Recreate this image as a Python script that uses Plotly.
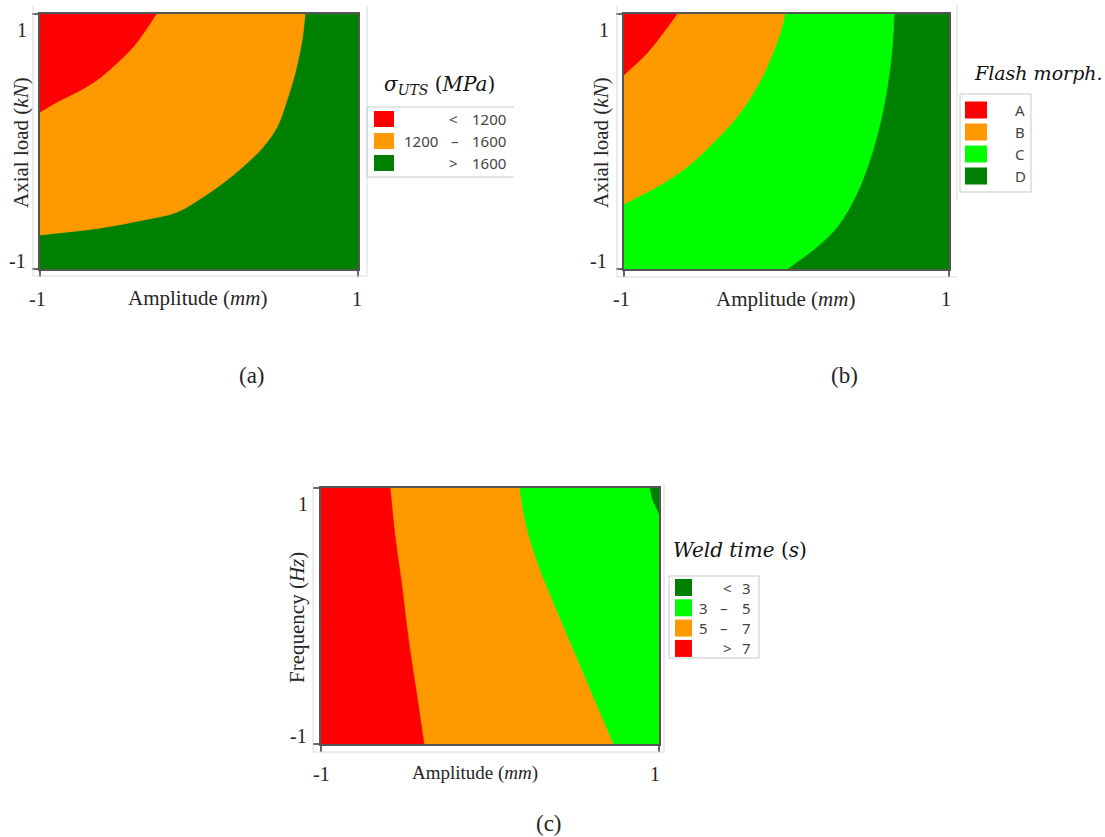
import math
import plotly.graph_objects as go

# ---------------- data (boundaries, coded units) ----------------
# (a) sigma_UTS
a_red_x = [-0.270, -0.327, -0.415, -0.516, -0.642, -0.767, -0.893, -1.0]
a_red_y = [1.0, 0.890, 0.741, 0.616, 0.482, 0.388, 0.310, 0.231]
a_og_x = [0.667, 0.648, 0.604, 0.553, 0.491, 0.403, 0.302, 0.176, 0.025, -0.138, -0.352, -0.623, -1.0]
a_og_y = [1.0, 0.796, 0.537, 0.325, 0.114, -0.043, -0.169, -0.302, -0.435, -0.553, -0.616, -0.678, -0.733]
a_levels = ["<  1200", "1200 \u2013 1600", ">  1600"]

# (b) Flash morphology
b_ro_x = [-0.674, -0.760, -0.858, -1.0]
b_ro_y = [1.0, 0.851, 0.694, 0.522]
b_ol_x = [-0.009, -0.040, -0.102, -0.182, -0.305, -0.452, -0.612, -0.778, -1.0]
b_ol_y = [1.0, 0.851, 0.639, 0.427, 0.192, -0.012, -0.200, -0.341, -0.490]
b_ld_x = [0.662, 0.649, 0.606, 0.532, 0.434, 0.311, 0.163, 0.003]
b_ld_y = [1.0, 0.718, 0.325, -0.067, -0.404, -0.671, -0.851, -1.0]
b_levels = ["A", "B", "C", "D"]

# (c) Weld time
c_ro_x = [-0.592, -0.562, -0.521, -0.485, -0.432, -0.391]
c_ro_y = [1.0, 0.617, 0.227, -0.164, -0.633, -1.0]
c_og_x = [0.172, 0.207, 0.278, 0.373, 0.491, 0.609, 0.728]
c_og_y = [1.0, 0.727, 0.414, 0.102, -0.266, -0.633, -1.0]
c_gd_x = [0.947, 0.964, 1.0]
c_gd_y = [1.0, 0.906, 0.805]
c_levels = [("", "<", "3"), ("3", "\u2013", "5"), ("5", "\u2013", "7"), ("", ">", "7")]

tick_vals = [-1, 1]
tick_text = ["-1", "1"]

RED = "#FF0000"
ORANGE = "#FF9900"
LGREEN = "#00FF00"
DGREEN = "#008000"

W, H = 1105, 837
LO, HI = tick_vals          # coded axis range
EXT = 1.6                   # construction corners beyond the (clipped) plot area


def P(x):
    return x / W


def Q(y):
    return 1 - y / H


fig = go.Figure()


def layer(xs, ys, color, ax, shape="spline"):
    fig.add_trace(go.Scatter(
        x=xs, y=ys, mode="lines", fill="toself", fillcolor=color,
        line=dict(color=color, width=0.8, shape=shape, smoothing=1.0),
        xaxis="x" + ax, yaxis="y" + ax, hoverinfo="skip", showlegend=False))


def base(color, ax):
    layer([-EXT, EXT, EXT, -EXT, -EXT], [-EXT, -EXT, EXT, EXT, -EXT], color, ax, shape="linear")


def ext_pt(x, y, xp, yp):
    # continue a boundary past its end point, along its last segment, out of the plot area
    dx, dy = x - xp, y - yp
    n = math.hypot(dx, dy)
    return (x + 0.5 * dx / n, y + 0.5 * dy / n)


def curve_layer(bx, by, corners, color, ax):
    s = ext_pt(bx[0], by[0], bx[1], by[1])
    e = ext_pt(bx[-1], by[-1], bx[-2], by[-2])
    xs = [s[0]] + bx + [e[0]] + [c[0] for c in corners]
    ys = [s[1]] + by + [e[1]] + [c[1] for c in corners]
    layer(xs, ys, color, ax)


TL = [(-EXT, EXT)]
BL_TL = [(-EXT, -EXT), (-EXT, EXT)]
TR = [(EXT, EXT)]

# (a)
base(DGREEN, "")
curve_layer(a_og_x, a_og_y, TL, ORANGE, "")
curve_layer(a_red_x, a_red_y, TL, RED, "")

# (b)
base(DGREEN, "2")
curve_layer(b_ld_x, b_ld_y, BL_TL, LGREEN, "2")
curve_layer(b_ol_x, b_ol_y, TL, ORANGE, "2")
curve_layer(b_ro_x, b_ro_y, TL, RED, "2")

# (c)
base(LGREEN, "3")
curve_layer(c_og_x, c_og_y, BL_TL, ORANGE, "3")
curve_layer(c_ro_x, c_ro_y, BL_TL, RED, "3")
curve_layer(c_gd_x, c_gd_y, TR, DGREEN, "3")

# ---------------- axes ----------------
AX = dict(range=[LO, HI], showgrid=False, zeroline=False, showline=True, mirror=True,
          linecolor="#555555", linewidth=2, ticks="outside", ticklen=6, tickwidth=1.5,
          tickcolor="#666666", tickvals=tick_vals, showticklabels=False, fixedrange=True)

boxes = {
    "": (40, 358, 14, 269),
    "2": (624, 949, 14, 269),
    "3": (321, 659, 488, 744),
}
layout_axes = {}
for k, (x0, x1, y0, y1) in boxes.items():
    layout_axes["xaxis" + k] = dict(AX, domain=[P(x0), P(x1)], anchor="y" + k)
    layout_axes["yaxis" + k] = dict(AX, domain=[Q(y1), Q(y0)], anchor="x" + k)

fig.update_layout(**layout_axes)

# ---------------- text ----------------
SERIF = "Liberation Serif"
TXT = "#262626"
ann = []


def text(x, y, s, size=20, family=SERIF, color=TXT, angle=0, xanchor="center"):
    ann.append(dict(x=P(x), y=Q(y), xref="paper", yref="paper", text=s, showarrow=False,
                    font=dict(family=family, size=size, color=color), textangle=angle,
                    xanchor=xanchor, yanchor="middle"))


# tick labels
for (xl, xr, yb), ylab in [((37, 357, 299), ((22, 30), (17, 261))),
                           ((621, 946, 299), ((604, 30), (598, 261))),
                           ((321, 655, 774), ((303, 504), (298, 736)))]:
    text(xl, yb, tick_text[0])
    text(xr, yb, tick_text[1])
    text(ylab[0][0], ylab[0][1], tick_text[1])
    text(ylab[1][0], ylab[1][1], tick_text[0])

# axis titles
text(197, 298, "Amplitude (<i>mm</i>)", size=21)
text(21, 143, "Axial load (<i>kN</i>)", size=21, angle=-90)
text(785, 299, "Amplitude (<i>mm</i>)", size=21)
text(601, 143, "Axial load (<i>kN</i>)", size=21, angle=-90)
text(475, 773, "Amplitude (<i>mm</i>)", size=19)
text(297, 618, "Frequency (<i>Hz</i>)", size=21, angle=-90)

# sub-figure labels
text(252, 376, "(a)", size=23)
text(845, 376, "(b)", size=23)
text(549, 823, "(c)", size=23)

# legend titles
LT = "DejaVu Serif"
text(440, 85, "<i>\u03c3<sub>UTS</sub></i> (<i>MPa</i>)", size=20, family=LT, color="#111111")
text(1038, 73, "<i>Flash morph.</i>", size=19, family=LT, color="#111111")
text(740, 550, "<i>Weld time</i> (<i>s</i>)", size=20, family=LT, color="#111111")

# ---------------- shapes: frames and legend boxes ----------------
shapes = []
FRAME = "#d9d9d9"
LBOX = "#c9c9c9"


def line(x0, y0, x1, y1, color=FRAME, width=1):
    shapes.append(dict(type="line", xref="paper", yref="paper", x0=P(x0), y0=Q(y0),
                       x1=P(x1), y1=Q(y1), line=dict(color=color, width=width)))


def rect(x0, y0, x1, y1, color):
    shapes.append(dict(type="rect", xref="paper", yref="paper", x0=P(x0), y0=Q(y0),
                       x1=P(x1), y1=Q(y1), fillcolor=color, line=dict(width=0)))


# outer light frames
line(33, 5, 33, 276); line(33, 276, 367, 276); line(367, 5, 367, 276)
line(617, 5, 617, 277); line(617, 277, 957, 277); line(957, 5, 957, 200)
line(313, 483, 313, 752); line(313, 752, 664, 752); line(664, 483, 664, 752)

LF = "Noto Sans"
LC = "#444444"

# legend (a)
line(367, 107, 514, 107, LBOX); line(367, 177, 514, 177, LBOX); line(367, 107, 367, 177, LBOX)
a_colors = [RED, ORANGE, DGREEN]
for i, (lab, col) in enumerate(zip(a_levels, a_colors)):
    yc = 119 + 22 * i
    rect(374, yc - 8, 394, yc + 8, col)
    parts = lab.split()
    if len(parts) == 2:
        text(453, yc, parts[0], size=15, family=LF, color=LC)
        text(508, yc, parts[1], size=15, family=LF, color=LC, xanchor="right")
    else:
        text(440, yc, parts[0], size=15, family=LF, color=LC, xanchor="right")
        text(455, yc, parts[1], size=15, family=LF, color=LC)
        text(508, yc, parts[2], size=15, family=LF, color=LC, xanchor="right")

# legend (b)
shapes.append(dict(type="rect", xref="paper", yref="paper", x0=P(960), y0=Q(94), x1=P(1031),
                   y1=Q(192), line=dict(color=LBOX, width=1)))
b_colors = [RED, ORANGE, LGREEN, DGREEN]
for i, (lab, col) in enumerate(zip(b_levels, b_colors)):
    yc = 110 + 22 * i
    rect(965, yc - 8.5, 987, yc + 8.5, col)
    text(1020, yc, lab, size=15, family=LF, color=LC)

# legend (c)
shapes.append(dict(type="rect", xref="paper", yref="paper", x0=P(669), y0=Q(576), x1=P(759),
                   y1=Q(658), line=dict(color=LBOX, width=1)))
c_colors = [DGREEN, LGREEN, ORANGE, RED]
for i, (parts, col) in enumerate(zip(c_levels, c_colors)):
    yc = 587.5 + 20.3 * i
    rect(675, yc - 8.5, 692, yc + 8.5, col)
    if parts[0]:
        text(703, yc, parts[0], size=15, family=LF, color=LC)
    text(724 if parts[0] else 727, yc, parts[1], size=15, family=LF, color=LC)
    text(746, yc, parts[2], size=15, family=LF, color=LC)

fig.update_layout(width=W, height=H, margin=dict(l=0, r=0, t=0, b=0),
                  paper_bgcolor="white", plot_bgcolor="white", showlegend=False,
                  annotations=ann, shapes=shapes)

fig.write_html("out.html", config={"displayModeBar": False},
               post_script="document.body.style.margin='0';document.body.style.overflow='hidden';")
